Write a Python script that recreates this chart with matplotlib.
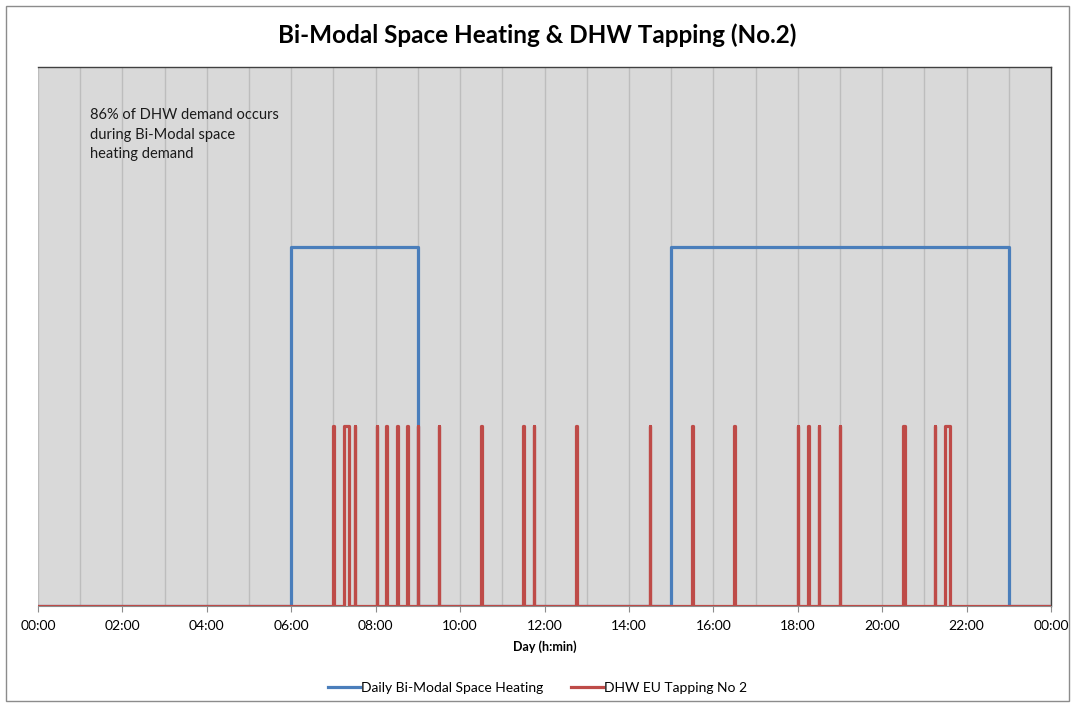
import numpy as np
import matplotlib
matplotlib.use('Agg')
import matplotlib.pyplot as plt
from matplotlib.patches import Rectangle

# Space heating periods (hours of day)
heat_start = [6.0, 15.0]
heat_end = [9.0, 23.0]
heat_level = 1.0

# DHW tapping events: start (hours) and duration (hours)
tap_start = [7.0, 7.25, 7.5, 8.02, 8.25, 8.5, 8.75, 9.0, 9.5, 10.5, 11.5, 11.75,
             12.75, 14.5, 15.5, 16.5, 18.0, 18.25, 18.5, 19.0, 20.5, 21.25, 21.48]
tap_dur = [0.01, 0.11, 0.01, 0.01, 0.01, 0.02, 0.01, 0.01, 0.01, 0.01, 0.01, 0.01,
           0.01, 0.01, 0.01, 0.02, 0.01, 0.01, 0.01, 0.01, 0.03, 0.01, 0.12]
tap_level = 0.5

tick_hours = list(range(0, 25, 2))
tick_labels = ['%02d:00' % (h % 24) for h in tick_hours]

BLUE = '#4A7EBB'
RED = '#BE4B48'

plt.rcParams['font.family'] = ['Lato', 'DejaVu Sans']


def step_series(starts, ends, level):
    xs, ys = [0.0], [0.0]
    for s, e in zip(starts, ends):
        xs += [s, s, e, e]
        ys += [0.0, level, level, 0.0]
    xs.append(24.0)
    ys.append(0.0)
    return xs, ys


fig = plt.figure(figsize=(10.75, 7.07), dpi=100)
fig.patches.append(Rectangle((6 / 1075, 6 / 707), 1063 / 1075, 695 / 707,
                             transform=fig.transFigure, fill=False,
                             edgecolor='#8C8C8C', linewidth=1.0))

ax = fig.add_axes([38 / 1075, 1 - 606 / 707, 1013 / 1075, 539 / 707])
ax.set_facecolor('#D9D9D9')

hx, hy = step_series(heat_start, heat_end, heat_level)
tx, ty = step_series(tap_start, [s + d for s, d in zip(tap_start, tap_dur)], tap_level)

ax.plot(hx, hy, color=BLUE, lw=2.3, solid_joinstyle='round',
        label='Daily Bi-Modal Space Heating', zorder=3)
ax.plot(tx, ty, color=RED, lw=2.3, solid_joinstyle='round',
        label='DHW EU Tapping No 2', zorder=4)

ax.set_xlim(0, 24)
ax.set_ylim(0, 1.5)
ax.set_xticks(tick_hours)
ax.set_xticklabels(tick_labels, fontsize=10)
ax.set_xticks(range(0, 25), minor=True)
ax.grid(True, which='both', axis='x', color='#BDBDBD', lw=1.0)
ax.set_axisbelow(True)
ax.set_yticks([])
ax.tick_params(axis='x', which='major', length=4, color='#8C8C8C', pad=6)
ax.tick_params(axis='x', which='minor', length=0)
for side in ['top', 'right', 'left']:
    ax.spines[side].set_color('#404040')
    ax.spines[side].set_linewidth(1.0)
ax.spines['left'].set_visible(False)
ax.spines['bottom'].set_color('#8C8C8C')

ax.set_xlabel('Day (h:min)', fontsize=9, fontweight='bold', labelpad=6)
fig.suptitle('Bi-Modal Space Heating & DHW Tapping (No.2)', fontsize=17.5,
             fontweight='bold', y=1 - 35 / 707, va='center')

ax.text((90 - 38) / 1013, 1 - (108 - 67) / 539,
        '86% of DHW demand occurs\nduring Bi-Modal space\nheating demand',
        transform=ax.transAxes, fontsize=10.5, va='top', ha='left',
        linespacing=1.5, color='#1A1A1A')

fig.legend(loc='center', bbox_to_anchor=(0.5, 1 - 688 / 707), ncol=2,
           frameon=False, fontsize=10, handlelength=2.3, columnspacing=2.0,
           handletextpad=0.1)

fig.savefig('out.png', dpi=100)
